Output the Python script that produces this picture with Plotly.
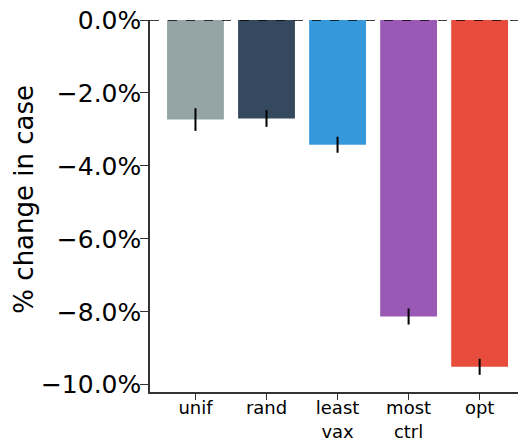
import plotly.graph_objects as go

categories = ["unif", "rand", "least<br>vax", "most<br>ctrl", "opt"]
values = [-2.73, -2.70, -3.42, -8.13, -9.51]
errors = [0.31, 0.23, 0.22, 0.22, 0.22]
colors = ["#95a5a6", "#34495e", "#3498db", "#9b59b6", "#e74c3c"]
ytick_vals = [0, -2, -4, -6, -8, -10]
ytick_text = ["0.0%", "\u22122.0%", "\u22124.0%", "\u22126.0%", "\u22128.0%", "\u221210.0%"]
y_title = "% change in case"

xpos = list(range(len(categories)))

fig = go.Figure()
fig.add_trace(go.Bar(
    x=xpos, y=values,
    marker=dict(color=colors, line=dict(width=0)),
    width=0.8,
    error_y=dict(type="data", array=errors, visible=True, color="black", thickness=2, width=0),
    hoverinfo="skip",
))

fig.add_shape(type="line", xref="paper", yref="y", x0=0, x1=1, y0=0, y1=0,
              line=dict(color="black", width=1.5, dash="dash"))

font = "DejaVu Sans"
fig.update_layout(
    width=518, height=439,
    margin=dict(l=150, r=0, t=20, b=47),
    plot_bgcolor="white", paper_bgcolor="white",
    showlegend=False,
    font=dict(family=font, color="black"),
)
fig.add_annotation(
    text=y_title, xref="paper", yref="paper", x=-0.342, y=0.5175,
    xanchor="center", yanchor="middle", textangle=-90, showarrow=False,
    font=dict(size=26, family=font, color="black"),
)
fig.update_xaxes(
    range=[-0.64, 4.54],
    tickvals=xpos, ticktext=categories,
    tickfont=dict(size=18, family=font, color="black"),
    showline=True, linecolor="#333333", linewidth=1.5,
    ticks="outside", ticklen=6, tickwidth=1.2, tickcolor="#333333",
    ticklabelstandoff=-7,
    showgrid=False, zeroline=False, automargin=False,
)
fig.update_yaxes(
    range=[-10.2, 0],
    tickvals=ytick_vals, ticktext=ytick_text,
    tickfont=dict(size=25, family=font, color="black"),
    showline=True, linecolor="#333333", linewidth=1.5,
    ticks="outside", ticklen=8, tickwidth=1.2, tickcolor="#333333",
    ticklabelstandoff=-6,
    showgrid=False, zeroline=False, automargin=False,
)

fig.write_html("out.html", config={"displayModeBar": False},
               post_script="document.body.style.margin='0';")
